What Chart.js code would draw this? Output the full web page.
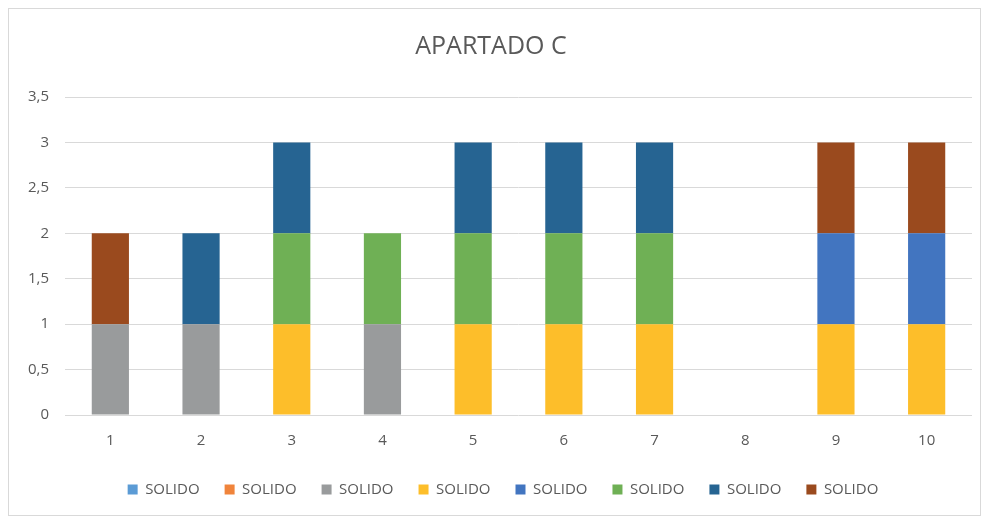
<!DOCTYPE html>
<html>
<head>
<meta charset="utf-8">
<script src="https://cdn.jsdelivr.net/npm/chart.js@4.4.1/dist/chart.umd.min.js"></script>
<style>
  html, body { margin: 0; padding: 0; background: #ffffff; }
  #wrap { position: relative; width: 991px; height: 523px; }
  #frame { position: absolute; left: 8px; top: 8px; width: 973px; height: 508px; border: 1px solid #d9d9d9; box-sizing: border-box; pointer-events: none; }
  canvas { position: absolute; left: 0; top: 0; }
</style>
</head>
<body>
<div id="wrap">
  <canvas id="c" width="991" height="523"></canvas>
  <div id="frame"></div>
</div>
<script>
const categories = ['1', '2', '3', '4', '5', '6', '7', '8', '9', '10'];
const seriesNames = ['SOLIDO', 'SOLIDO', 'SOLIDO', 'SOLIDO', 'SOLIDO', 'SOLIDO', 'SOLIDO', 'SOLIDO'];
const s1LightBlue = [0, 0, 0, 0, 0, 0, 0, 0, 0, 0];
const s2Orange    = [0, 0, 0, 0, 0, 0, 0, 0, 0, 0];
const s3Gray      = [1, 1, 0, 1, 0, 0, 0, 0, 0, 0];
const s4Yellow    = [0, 0, 1, 0, 1, 1, 1, 0, 1, 1];
const s5Blue      = [0, 0, 0, 0, 0, 0, 0, 0, 1, 1];
const s6Green     = [0, 0, 1, 1, 1, 1, 1, 0, 0, 0];
const s7DarkBlue  = [0, 1, 1, 0, 1, 1, 1, 0, 0, 0];
const s8Brown     = [1, 0, 0, 0, 0, 0, 0, 0, 1, 1];
const yTickLabels = ['0', '0,5', '1', '1,5', '2', '2,5', '3', '3,5'];

const seriesValues = [s1LightBlue, s2Orange, s3Gray, s4Yellow, s5Blue, s6Green, s7DarkBlue, s8Brown];
const colors = ['#5B9BD5', '#F0843B', '#999B9C', '#FDBE2A', '#4275C0', '#6FB055', '#266492', '#9A4A1E'];

const FONT = '"Open Sans", "Liberation Sans", sans-serif';
const TXT = '#595959';

// shift the legend slightly right, as in the reference
const legendShift = {
  id: 'legendShift',
  afterLayout(chart) {
    const lg = chart.legend;
    if (lg && !lg._shiftWrapped) {
      const orig = lg.draw.bind(lg);
      lg.draw = function () {
        const ctx = chart.ctx;
        ctx.save();
        ctx.translate(12, 0);
        orig();
        ctx.restore();
      };
      lg._shiftWrapped = true;
    }
  }
};

new Chart(document.getElementById('c'), {
  type: 'bar',
  data: {
    labels: categories,
    datasets: seriesValues.map((vals, i) => ({
      label: seriesNames[i],
      data: vals,
      backgroundColor: colors[i],
      borderWidth: 0,
      categoryPercentage: 0.41,
      barPercentage: 1.0
    }))
  },
  options: {
    responsive: false,
    animation: false,
    devicePixelRatio: 1,
    layout: { padding: { left: 10, right: 19, top: 32, bottom: 16 } },
    plugins: {
      title: {
        display: true,
        text: 'APARTADO C',
        color: TXT,
        font: { family: FONT, size: 25, weight: 'normal' },
        padding: { top: 0, bottom: 35 }
      },
      legend: {
        display: true,
        position: 'bottom',
        labels: {
          color: TXT,
          font: { family: FONT, size: 15 },
          boxWidth: 10,
          boxHeight: 10,
          padding: 25
        }
      },
      tooltip: { enabled: false }
    },
    scales: {
      x: {
        stacked: true,
        grid: { display: false, drawTicks: false },
        border: { display: false },
        ticks: { color: TXT, font: { family: FONT, size: 15 }, padding: 17 },
        afterFit: (s) => { s.height = 42; }
      },
      y: {
        stacked: true,
        min: 0,
        max: 3.5,
        grid: { color: '#d9d9d9', lineWidth: 1, drawTicks: false },
        border: { display: false },
        ticks: {
          stepSize: 0.5,
          color: TXT,
          font: { family: FONT, size: 15 },
          padding: 16,
          callback: (v) => yTickLabels[Math.round(v * 2)]
        },
        afterFit: (s) => { s.width = 55; }
      }
    }
  },
  plugins: [legendShift]
});
</script>
</body>
</html>
